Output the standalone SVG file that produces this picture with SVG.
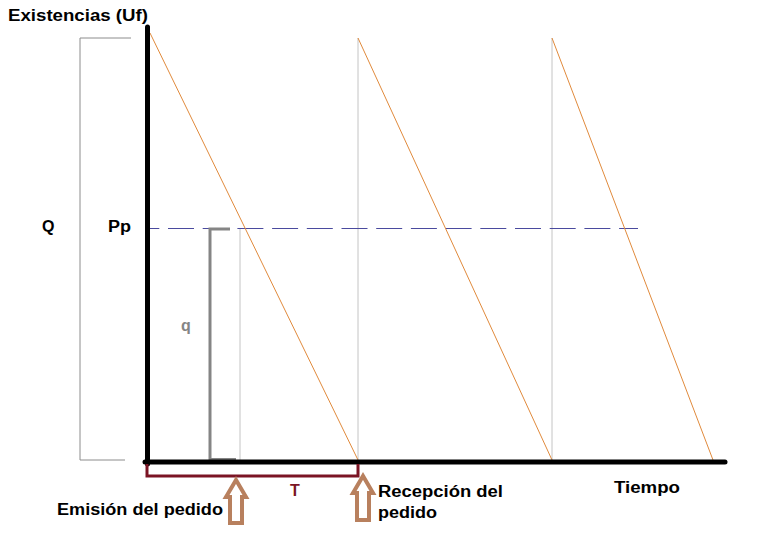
<svg xmlns="http://www.w3.org/2000/svg" width="769" height="538" viewBox="0 0 769 538">
<style>
text{font-family:"Liberation Sans",Arial,sans-serif;font-weight:bold;font-size:16px;fill:#000}
.saw{stroke:#e08a3c;stroke-width:1;fill:none}
.vg{stroke:#c4c4c4;stroke-width:1;fill:none}
.arrow{fill:#fff;stroke:#b8805e;stroke-width:4;stroke-linejoin:miter}
</style>
<rect width="769" height="538" fill="#fff"/>
<g id="bracketQ"><polyline points="131,38 80,38 80,460 125,460" fill="none" stroke="#8c8c8c" stroke-width="1"/></g>
<g id="guides">
<line class="vg" x1="358" y1="38" x2="358" y2="460"/>
<line class="vg" x1="552" y1="38" x2="552" y2="460"/>
<line class="vg" x1="240" y1="228" x2="240" y2="460"/>
</g>
<g id="reorder"><line x1="149" y1="228.5" x2="638" y2="228.5" stroke="#4a4a9e" stroke-width="1" stroke-dasharray="26 8.7" stroke-dashoffset="15.7"/></g>
<g id="connectors">
<polyline class="saw" points="150,33 358,460"/>
<polyline class="saw" points="358,38 552,460"/>
<polyline class="saw" points="552,38 713,460"/>
</g>
<g id="qBracket"><polyline points="230,229 210,229 210,459.5 236,459.5" fill="none" stroke="#858585" stroke-width="3"/></g>
<g id="axes">
<line x1="147.5" y1="27" x2="147.5" y2="464" stroke="#000" stroke-width="5" stroke-linecap="round"/>
<line x1="145" y1="462" x2="725" y2="462" stroke="#000" stroke-width="5" stroke-linecap="round"/>
</g>
<g id="Tbracket"><polyline points="147,464 147,476 358,476 358,464" fill="none" stroke="#7b1424" stroke-width="3"/></g>
<g id="arrow1"><polygon class="arrow" points="236,480 226,497 230,497 230,523 242,523 242,497 246,497"/></g>
<g id="arrow2"><polygon class="arrow" points="363,476 353,493 357,493 357,520 369,520 369,493 373,493"/></g>
<g id="labels">
<text x="8" y="21" textLength="140" lengthAdjust="spacingAndGlyphs">Existencias (Uf)</text>
<text x="42" y="232">Q</text>
<text x="108" y="232" textLength="23" lengthAdjust="spacingAndGlyphs">Pp</text>
<text x="181" y="331" style="fill:#858585">q</text>
<text x="290" y="496" style="fill:#7b1424">T</text>
<text x="57" y="515" textLength="166" lengthAdjust="spacingAndGlyphs">Emisión del pedido</text>
<text x="378" y="497" textLength="125" lengthAdjust="spacingAndGlyphs">Recepción del</text>
<text x="378" y="518" textLength="59" lengthAdjust="spacingAndGlyphs">pedido</text>
<text x="614" y="493" textLength="66" lengthAdjust="spacingAndGlyphs">Tiempo</text>
</g>
</svg>
